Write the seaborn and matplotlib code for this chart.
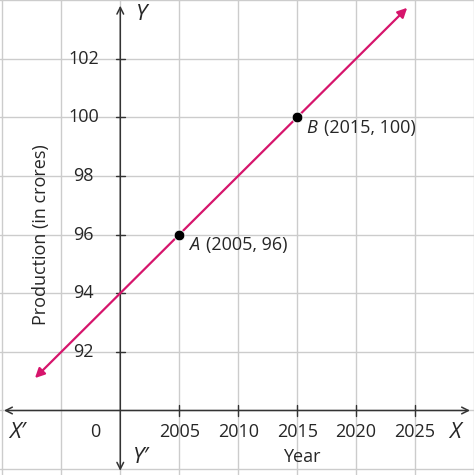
import numpy as np
import matplotlib.pyplot as plt
import seaborn as sns

sns.set_theme(style="white")
plt.rcParams['font.family'] = ['Open Sans', 'DejaVu Sans']

# data
years = [2005, 2010, 2015, 2020, 2025]
prod_ticks = [92, 94, 96, 98, 100, 102]
point_years = [2005, 2015]
point_prod = [96, 100]
point_names = ['A', 'B']
line_years = np.array([1992.6, 2024.5])
slope = 0.4
intercept = 94

pink = '#d6156c'
fig = plt.figure(figsize=(4.74, 4.75), dpi=100)
ax = fig.add_axes([0, 0, 1, 1])
ax.set_xlim(1989.8, 2030.0)
ax.set_ylim(87.8, 104.0)
for s in ax.spines.values():
    s.set_visible(False)
ax.set_xticks([])
ax.set_yticks([])

# grid
for gx in range(1990, 2031, 5):
    ax.axvline(gx, color='#cccccc', lw=1, zorder=0)
for gy in range(88, 105, 2):
    ax.axhline(gy, color='#cccccc', lw=1, zorder=0)

# axes with arrows
arr = dict(arrowstyle='<->', color='#333333', lw=1.1, mutation_scale=12)
ax.annotate('', xy=(1989.9, 90), xytext=(2029.9, 90), arrowprops=arr)
ax.annotate('', xy=(2000, 87.85), xytext=(2000, 103.9), arrowprops=arr)

fs = 13
# ticks
for yr in years:
    ax.plot([yr, yr], [89.8, 90.2], color='#333333', lw=1)
    ax.text(yr, 89.25, str(yr), ha='center', va='center', fontsize=fs)
for p in prod_ticks:
    ax.plot([1999.6, 2000.4], [p, p], color='#333333', lw=1)
    ax.text(1996.9, p, str(p), ha='center', va='center', fontsize=fs)
ax.text(1997.9, 89.25, '0', ha='center', va='center', fontsize=fs)
ax.text(2015.4, 88.4, 'Year', ha='center', va='center', fontsize=fs)
ax.text(1993.3, 96, 'Production (in crores)', rotation=90, ha='center', va='center', fontsize=fs)
ax.text(1991.3, 89.25, "X′", style='italic', ha='center', va='center', fontsize=16)
ax.text(2028.4, 89.25, 'X', style='italic', ha='center', va='center', fontsize=16)
ax.text(2001.8, 103.5, 'Y', style='italic', ha='center', va='center', fontsize=16)
ax.text(2001.8, 88.4, "Y′", style='italic', ha='center', va='center', fontsize=16)

# line
ly = intercept + slope * (line_years - 2000)
ax.annotate('', xy=(line_years[0], ly[0]), xytext=(line_years[1], ly[1]),
            arrowprops=dict(arrowstyle='<|-|>', color=pink, lw=1.6, mutation_scale=14))
sns.scatterplot(x=point_years, y=point_prod, color='black', s=60, ax=ax, zorder=5)
for px, py, nm in zip(point_years, point_prod, point_names):
    ax.text(px + 0.8, py - 0.35, nm, style='italic', ha='left', va='center', fontsize=fs)
    ax.text(px + 2.3, py - 0.35, f'({px}, {py})', ha='left', va='center', fontsize=fs)

fig.savefig('out.png', dpi=100)
